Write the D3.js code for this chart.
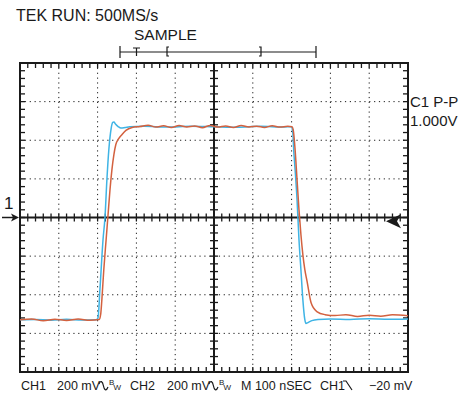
<!DOCTYPE html>
<html>
<head>
<meta charset="utf-8">
<script src="https://cdn.jsdelivr.net/npm/d3@7"></script>
<style>
  html, body { margin: 0; padding: 0; background: #fff; }
  svg { display: block; font-family: "Liberation Sans", Arial, sans-serif; }
</style>
</head>
<body>
<div id="chart"></div>
<script>
const blueTime = [0, 40, 80, 120, 160, 196, 201, 206, 214, 219, 224, 229, 235, 239, 242, 246, 253, 260, 271, 283,
  320, 380, 440, 500, 560, 620, 680, 699, 703, 706, 709, 714, 719, 724, 729, 734, 737, 742, 752, 768,
  800, 850, 900, 950, 1000];
const blueVolt = [-530, -528, -532, -527, -531, -530, -520, -373, -114, 0, 197, 352, 462, 492, 494, 484, 471, 463, 466, 470,
  472, 468, 473, 470, 467, 472, 469, 470, 440, 330, 249, 93, -114, -269, -425, -528, -549, -544, -534, -528,
  -526, -528, -524, -527, -525];

const redTime = [0, 30, 60, 90, 120, 150, 180, 204, 208, 211, 216, 222, 227, 232, 237, 242, 247, 253, 263, 273, 289,
  309, 330, 350, 370, 390, 410, 430, 450, 470, 490, 510, 530, 550, 570, 590, 610, 630, 650, 670, 690, 701,
  704, 709, 714, 719, 724, 729, 734, 740, 750, 765, 786, 812, 840, 870, 900, 930, 960, 1000];
const redVolt = [-530, -525, -535, -527, -533, -526, -532, -528, -500, -425, -269, -114, 16, 145, 249, 326, 378, 404, 430, 451, 466,
  471, 478, 468, 475, 466, 476, 469, 474, 465, 477, 468, 474, 466, 476, 469, 473, 466, 475, 468, 472, 470,
  456, 352, 197, 41, -88, -192, -269, -332, -440, -487, -503, -508, -503, -512, -506, -511, -504, -509];

const xTicks = d3.range(0, 1001, 100);     // major divisions, ns
const yTicks = d3.range(-800, 801, 200);   // major divisions, mV

const width = 461, height = 393;
const svg = d3.select("#chart").append("svg")
  .attr("width", width).attr("height", height);

const x = d3.scaleLinear().domain([0, 1000]).range([20, 408]);
const y = d3.scaleLinear().domain([-800, 800]).range([372, 63]);

const ink = "#1a1a1a";

// dotted graticule
svg.append("g").selectAll("line")
  .data(xTicks.filter(d => d > 0 && d < 1000 && d !== 500))
  .join("line")
  .attr("x1", d => x(d)).attr("x2", d => x(d))
  .attr("y1", y(800)).attr("y2", y(-800))
  .attr("stroke", ink).attr("stroke-width", 1)
  .attr("stroke-dasharray", "1.2,3.65");

svg.append("g").selectAll("line")
  .data(yTicks.filter(d => d > -800 && d < 800 && d !== 0))
  .join("line")
  .attr("y1", d => y(d)).attr("y2", d => y(d))
  .attr("x1", x(0)).attr("x2", x(1000))
  .attr("stroke", ink).attr("stroke-width", 1)
  .attr("stroke-dasharray", "1.2,3.65");

// center cross
const axes = svg.append("g").attr("stroke", ink);
axes.append("line").attr("x1", x(0)).attr("x2", x(1000))
  .attr("y1", y(0)).attr("y2", y(0)).attr("stroke-width", 2);
axes.append("line").attr("x1", x(500)).attr("x2", x(500))
  .attr("y1", y(800)).attr("y2", y(-800)).attr("stroke-width", 2);

const minorX = d3.range(20, 1000, 20);
const minorY = d3.range(-760, 800, 40);

axes.append("g").selectAll("line").data(minorX).join("line")
  .attr("x1", d => x(d)).attr("x2", d => x(d))
  .attr("y1", y(0) - 4).attr("y2", y(0) + 4).attr("stroke-width", 1.3);
axes.append("g").selectAll("line").data(minorY).join("line")
  .attr("y1", d => y(d)).attr("y2", d => y(d))
  .attr("x1", x(500) - 4).attr("x2", x(500) + 4).attr("stroke-width", 1.3);

// border ticks, pointing inward
axes.append("g").selectAll("line").data(minorX).join("line")
  .attr("x1", d => x(d)).attr("x2", d => x(d))
  .attr("y1", y(800)).attr("y2", y(800) + 5).attr("stroke-width", 1.3);
axes.append("g").selectAll("line").data(minorX).join("line")
  .attr("x1", d => x(d)).attr("x2", d => x(d))
  .attr("y1", y(-800)).attr("y2", y(-800) - 5).attr("stroke-width", 1.3);
axes.append("g").selectAll("line").data(minorY).join("line")
  .attr("y1", d => y(d)).attr("y2", d => y(d))
  .attr("x1", x(0)).attr("x2", x(0) + 5).attr("stroke-width", 1.3);
axes.append("g").selectAll("line").data(minorY).join("line")
  .attr("y1", d => y(d)).attr("y2", d => y(d))
  .attr("x1", x(1000)).attr("x2", x(1000) - 5).attr("stroke-width", 1.3);

axes.append("rect")
  .attr("x", x(0)).attr("y", y(800))
  .attr("width", x(1000) - x(0)).attr("height", y(-800) - y(800))
  .attr("fill", "none").attr("stroke-width", 2);

// traces
const line = d3.line().x(d => x(d[0])).y(d => y(d[1])).curve(d3.curveMonotoneX);
svg.append("path")
  .datum(d3.zip(blueTime, blueVolt))
  .attr("d", line).attr("fill", "none")
  .attr("stroke", "#3fb4e5").attr("stroke-width", 1.5);
svg.append("path")
  .datum(d3.zip(redTime, redVolt))
  .attr("d", line).attr("fill", "none")
  .attr("stroke", "#d3613f").attr("stroke-width", 1.5);

// channel 1 ground marker
svg.append("text").attr("x", 4).attr("y", 209)
  .attr("font-size", 17).attr("fill", ink).text("1");
svg.append("line").attr("x1", 2).attr("x2", 16)
  .attr("y1", y(0)).attr("y2", y(0)).attr("stroke", ink).attr("stroke-width", 1.5);
svg.append("path").attr("d", `M19,${y(0)} L11,${y(0) - 4} L13,${y(0)} L11,${y(0) + 4} Z`)
  .attr("fill", ink);

// trigger level marker
const ty = y(-20);
svg.append("path")
  .attr("d", `M386,${ty} L401,${ty - 7} L397,${ty} L401,${ty + 7} Z`)
  .attr("fill", ink);

// header text
svg.append("text").attr("x", 16).attr("y", 21)
  .attr("font-size", 16).attr("fill", ink).text("TEK RUN: 500MS/s");
svg.append("text").attr("x", 134).attr("y", 40)
  .attr("font-size", 15.5).attr("fill", ink).text("SAMPLE");

// record position bar
const bar = svg.append("g").attr("stroke", ink).attr("stroke-width", 1.2).attr("fill", "none");
bar.append("line").attr("x1", 120).attr("x2", 316).attr("y1", 52).attr("y2", 52);
bar.append("line").attr("x1", 120).attr("x2", 120).attr("y1", 46).attr("y2", 58);
bar.append("line").attr("x1", 316).attr("x2", 316).attr("y1", 46).attr("y2", 58);
bar.append("path").attr("d", "M133,48 L140,48 M136.5,48 L136.5,56");
bar.append("path").attr("d", "M169,47 L167,47 L167,56 L169,56");
bar.append("path").attr("d", "M259,47 L261,47 L261,56 L259,56");

// measurement readout
svg.append("text").attr("x", 410).attr("y", 107)
  .attr("font-size", 15).attr("fill", ink).text("C1 P-P");
svg.append("text").attr("x", 410).attr("y", 126)
  .attr("font-size", 15).attr("fill", ink).text("1.000V");

// footer
const foot = svg.append("g").attr("font-size", 12.5).attr("fill", ink);
const fy = 390;
foot.append("text").attr("x", 21).attr("y", fy).text("CH1");
foot.append("text").attr("x", 57).attr("y", fy).text("200 mV");
foot.append("text").attr("x", 130).attr("y", fy).text("CH2");
foot.append("text").attr("x", 167).attr("y", fy).text("200 mV");
foot.append("text").attr("x", 241).attr("y", fy).text("M 100 nSEC");
foot.append("text").attr("x", 320).attr("y", fy).text("CH1");
foot.append("text").attr("x", 369).attr("y", fy).text("\u221220 mV");

// bandwidth-limit glyphs
[99, 209].forEach(bx => {
  foot.append("path")
    .attr("d", `M${bx},${fy - 6} C${bx + 1.5},${fy - 10} ${bx + 3.5},${fy - 9} ${bx + 4.5},${fy - 4} C${bx + 5.5},${fy + 1} ${bx + 7.5},${fy + 1} ${bx + 9},${fy - 3}`)
    .attr("fill", "none").attr("stroke", ink).attr("stroke-width", 1.2);
  foot.append("text").attr("x", bx + 10).attr("y", fy - 5).attr("font-size", 8).text("B");
  foot.append("text").attr("x", bx + 14.5).attr("y", fy).attr("font-size", 8).text("W");
});

// falling-edge trigger glyph
foot.append("path")
  .attr("d", `M343,${fy - 9} L346,${fy - 9} L352,${fy}`)
  .attr("fill", "none").attr("stroke", ink).attr("stroke-width", 1.2);
</script>
</body>
</html>
